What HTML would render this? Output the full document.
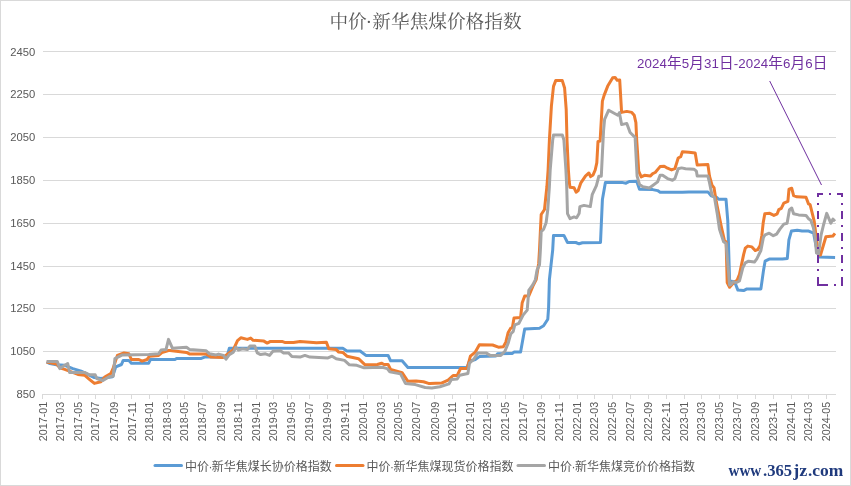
<!DOCTYPE html>
<html lang="zh-CN"><head><meta charset="utf-8"><title>中价·新华焦煤价格指数</title>
<style>
html,body{margin:0;padding:0;background:#fff;}
body{width:851px;height:486px;overflow:hidden;}
svg{display:block;}
.ax{font-family:"Liberation Sans","Noto Sans CJK SC",sans-serif;font-size:11.3px;fill:#595959;}
.lg{font-family:"Liberation Sans","Noto Sans CJK SC",sans-serif;font-size:12px;fill:#595959;}
.ti{font-family:"Liberation Serif","Noto Serif CJK SC",serif;font-size:18.67px;fill:#595959;}
.an{font-family:"Liberation Sans","Noto Sans CJK SC",sans-serif;font-size:13.3px;fill:#7030A0;}
.an .c{font-size:14.67px;}
.wm{font-family:"Liberation Serif","Noto Serif CJK SC",serif;font-size:17px;font-weight:bold;fill:#1F3A7D;}
.s{fill:none;stroke-width:3;stroke-linejoin:round;stroke-linecap:butt;}
</style></head><body>
<svg width="851" height="486" viewBox="0 0 851 486">
<rect x="0" y="0" width="851" height="486" fill="#fff"/>
<rect x="0.5" y="0.5" width="850" height="485" fill="none" stroke="#D9D9D9" stroke-width="1" shape-rendering="crispEdges"/>
<g stroke="#D9D9D9" stroke-width="1" fill="none" shape-rendering="crispEdges">
<line x1="43" y1="51.5" x2="836" y2="51.5"/>
<line x1="43" y1="94.5" x2="836" y2="94.5"/>
<line x1="43" y1="137.5" x2="836" y2="137.5"/>
<line x1="43" y1="180.5" x2="836" y2="180.5"/>
<line x1="43" y1="223.5" x2="836" y2="223.5"/>
<line x1="43" y1="266.5" x2="836" y2="266.5"/>
<line x1="43" y1="308.5" x2="836" y2="308.5"/>
<line x1="43" y1="351.5" x2="836" y2="351.5"/>
<line x1="42" y1="394.5" x2="836" y2="394.5"/>
<line x1="42.5" y1="394" x2="42.5" y2="399"/>
<line x1="60.5" y1="394" x2="60.5" y2="399"/>
<line x1="78.5" y1="394" x2="78.5" y2="399"/>
<line x1="95.5" y1="394" x2="95.5" y2="399"/>
<line x1="114.5" y1="394" x2="114.5" y2="399"/>
<line x1="131.5" y1="394" x2="131.5" y2="399"/>
<line x1="149.5" y1="394" x2="149.5" y2="399"/>
<line x1="167.5" y1="394" x2="167.5" y2="399"/>
<line x1="184.5" y1="394" x2="184.5" y2="399"/>
<line x1="202.5" y1="394" x2="202.5" y2="399"/>
<line x1="220.5" y1="394" x2="220.5" y2="399"/>
<line x1="238.5" y1="394" x2="238.5" y2="399"/>
<line x1="256.5" y1="394" x2="256.5" y2="399"/>
<line x1="273.5" y1="394" x2="273.5" y2="399"/>
<line x1="291.5" y1="394" x2="291.5" y2="399"/>
<line x1="309.5" y1="394" x2="309.5" y2="399"/>
<line x1="327.5" y1="394" x2="327.5" y2="399"/>
<line x1="345.5" y1="394" x2="345.5" y2="399"/>
<line x1="363.5" y1="394" x2="363.5" y2="399"/>
<line x1="381.5" y1="394" x2="381.5" y2="399"/>
<line x1="398.5" y1="394" x2="398.5" y2="399"/>
<line x1="416.5" y1="394" x2="416.5" y2="399"/>
<line x1="434.5" y1="394" x2="434.5" y2="399"/>
<line x1="452.5" y1="394" x2="452.5" y2="399"/>
<line x1="470.5" y1="394" x2="470.5" y2="399"/>
<line x1="487.5" y1="394" x2="487.5" y2="399"/>
<line x1="505.5" y1="394" x2="505.5" y2="399"/>
<line x1="523.5" y1="394" x2="523.5" y2="399"/>
<line x1="541.5" y1="394" x2="541.5" y2="399"/>
<line x1="559.5" y1="394" x2="559.5" y2="399"/>
<line x1="577.5" y1="394" x2="577.5" y2="399"/>
<line x1="594.5" y1="394" x2="594.5" y2="399"/>
<line x1="612.5" y1="394" x2="612.5" y2="399"/>
<line x1="630.5" y1="394" x2="630.5" y2="399"/>
<line x1="648.5" y1="394" x2="648.5" y2="399"/>
<line x1="666.5" y1="394" x2="666.5" y2="399"/>
<line x1="684.5" y1="394" x2="684.5" y2="399"/>
<line x1="701.5" y1="394" x2="701.5" y2="399"/>
<line x1="719.5" y1="394" x2="719.5" y2="399"/>
<line x1="737.5" y1="394" x2="737.5" y2="399"/>
<line x1="755.5" y1="394" x2="755.5" y2="399"/>
<line x1="773.5" y1="394" x2="773.5" y2="399"/>
<line x1="791.5" y1="394" x2="791.5" y2="399"/>
<line x1="808.5" y1="394" x2="808.5" y2="399"/>
<line x1="826.5" y1="394" x2="826.5" y2="399"/>
</g>
<text class="ax" x="35.2" y="56" text-anchor="end" textLength="25.0" lengthAdjust="spacingAndGlyphs">2450</text>
<text class="ax" x="35.2" y="98" text-anchor="end" textLength="25.0" lengthAdjust="spacingAndGlyphs">2250</text>
<text class="ax" x="35.2" y="141" text-anchor="end" textLength="25.0" lengthAdjust="spacingAndGlyphs">2050</text>
<text class="ax" x="35.2" y="184" text-anchor="end" textLength="25.0" lengthAdjust="spacingAndGlyphs">1850</text>
<text class="ax" x="35.2" y="227" text-anchor="end" textLength="25.0" lengthAdjust="spacingAndGlyphs">1650</text>
<text class="ax" x="35.2" y="270" text-anchor="end" textLength="25.0" lengthAdjust="spacingAndGlyphs">1450</text>
<text class="ax" x="35.2" y="312" text-anchor="end" textLength="25.0" lengthAdjust="spacingAndGlyphs">1250</text>
<text class="ax" x="35.2" y="355" text-anchor="end" textLength="25.0" lengthAdjust="spacingAndGlyphs">1050</text>
<text class="ax" x="35.2" y="398" text-anchor="end" textLength="18.7" lengthAdjust="spacingAndGlyphs">850</text>
<text class="ax" transform="translate(47,441.2) rotate(-90)" textLength="39.4" lengthAdjust="spacingAndGlyphs">2017-01</text>
<text class="ax" transform="translate(64,441.2) rotate(-90)" textLength="39.4" lengthAdjust="spacingAndGlyphs">2017-03</text>
<text class="ax" transform="translate(82,441.2) rotate(-90)" textLength="39.4" lengthAdjust="spacingAndGlyphs">2017-05</text>
<text class="ax" transform="translate(99,441.2) rotate(-90)" textLength="39.4" lengthAdjust="spacingAndGlyphs">2017-07</text>
<text class="ax" transform="translate(118,441.2) rotate(-90)" textLength="39.4" lengthAdjust="spacingAndGlyphs">2017-09</text>
<text class="ax" transform="translate(136,441.2) rotate(-90)" textLength="39.4" lengthAdjust="spacingAndGlyphs">2017-11</text>
<text class="ax" transform="translate(153,441.2) rotate(-90)" textLength="39.4" lengthAdjust="spacingAndGlyphs">2018-01</text>
<text class="ax" transform="translate(171,441.2) rotate(-90)" textLength="39.4" lengthAdjust="spacingAndGlyphs">2018-03</text>
<text class="ax" transform="translate(188,441.2) rotate(-90)" textLength="39.4" lengthAdjust="spacingAndGlyphs">2018-05</text>
<text class="ax" transform="translate(206,441.2) rotate(-90)" textLength="39.4" lengthAdjust="spacingAndGlyphs">2018-07</text>
<text class="ax" transform="translate(225,441.2) rotate(-90)" textLength="39.4" lengthAdjust="spacingAndGlyphs">2018-09</text>
<text class="ax" transform="translate(242,441.2) rotate(-90)" textLength="39.4" lengthAdjust="spacingAndGlyphs">2018-11</text>
<text class="ax" transform="translate(260,441.2) rotate(-90)" textLength="39.4" lengthAdjust="spacingAndGlyphs">2019-01</text>
<text class="ax" transform="translate(277,441.2) rotate(-90)" textLength="39.4" lengthAdjust="spacingAndGlyphs">2019-03</text>
<text class="ax" transform="translate(295,441.2) rotate(-90)" textLength="39.4" lengthAdjust="spacingAndGlyphs">2019-05</text>
<text class="ax" transform="translate(313,441.2) rotate(-90)" textLength="39.4" lengthAdjust="spacingAndGlyphs">2019-07</text>
<text class="ax" transform="translate(331,441.2) rotate(-90)" textLength="39.4" lengthAdjust="spacingAndGlyphs">2019-09</text>
<text class="ax" transform="translate(349,441.2) rotate(-90)" textLength="39.4" lengthAdjust="spacingAndGlyphs">2019-11</text>
<text class="ax" transform="translate(367,441.2) rotate(-90)" textLength="39.4" lengthAdjust="spacingAndGlyphs">2020-01</text>
<text class="ax" transform="translate(385,441.2) rotate(-90)" textLength="39.4" lengthAdjust="spacingAndGlyphs">2020-03</text>
<text class="ax" transform="translate(402,441.2) rotate(-90)" textLength="39.4" lengthAdjust="spacingAndGlyphs">2020-05</text>
<text class="ax" transform="translate(420,441.2) rotate(-90)" textLength="39.4" lengthAdjust="spacingAndGlyphs">2020-07</text>
<text class="ax" transform="translate(439,441.2) rotate(-90)" textLength="39.4" lengthAdjust="spacingAndGlyphs">2020-09</text>
<text class="ax" transform="translate(456,441.2) rotate(-90)" textLength="39.4" lengthAdjust="spacingAndGlyphs">2020-11</text>
<text class="ax" transform="translate(474,441.2) rotate(-90)" textLength="39.4" lengthAdjust="spacingAndGlyphs">2021-01</text>
<text class="ax" transform="translate(491,441.2) rotate(-90)" textLength="39.4" lengthAdjust="spacingAndGlyphs">2021-03</text>
<text class="ax" transform="translate(509,441.2) rotate(-90)" textLength="39.4" lengthAdjust="spacingAndGlyphs">2021-05</text>
<text class="ax" transform="translate(527,441.2) rotate(-90)" textLength="39.4" lengthAdjust="spacingAndGlyphs">2021-07</text>
<text class="ax" transform="translate(545,441.2) rotate(-90)" textLength="39.4" lengthAdjust="spacingAndGlyphs">2021-09</text>
<text class="ax" transform="translate(563,441.2) rotate(-90)" textLength="39.4" lengthAdjust="spacingAndGlyphs">2021-11</text>
<text class="ax" transform="translate(581,441.2) rotate(-90)" textLength="39.4" lengthAdjust="spacingAndGlyphs">2022-01</text>
<text class="ax" transform="translate(598,441.2) rotate(-90)" textLength="39.4" lengthAdjust="spacingAndGlyphs">2022-03</text>
<text class="ax" transform="translate(616,441.2) rotate(-90)" textLength="39.4" lengthAdjust="spacingAndGlyphs">2022-05</text>
<text class="ax" transform="translate(634,441.2) rotate(-90)" textLength="39.4" lengthAdjust="spacingAndGlyphs">2022-07</text>
<text class="ax" transform="translate(652,441.2) rotate(-90)" textLength="39.4" lengthAdjust="spacingAndGlyphs">2022-09</text>
<text class="ax" transform="translate(670,441.2) rotate(-90)" textLength="39.4" lengthAdjust="spacingAndGlyphs">2022-11</text>
<text class="ax" transform="translate(688,441.2) rotate(-90)" textLength="39.4" lengthAdjust="spacingAndGlyphs">2023-01</text>
<text class="ax" transform="translate(705,441.2) rotate(-90)" textLength="39.4" lengthAdjust="spacingAndGlyphs">2023-03</text>
<text class="ax" transform="translate(723,441.2) rotate(-90)" textLength="39.4" lengthAdjust="spacingAndGlyphs">2023-05</text>
<text class="ax" transform="translate(741,441.2) rotate(-90)" textLength="39.4" lengthAdjust="spacingAndGlyphs">2023-07</text>
<text class="ax" transform="translate(759,441.2) rotate(-90)" textLength="39.4" lengthAdjust="spacingAndGlyphs">2023-09</text>
<text class="ax" transform="translate(777,441.2) rotate(-90)" textLength="39.4" lengthAdjust="spacingAndGlyphs">2023-11</text>
<text class="ax" transform="translate(795,441.2) rotate(-90)" textLength="39.4" lengthAdjust="spacingAndGlyphs">2024-01</text>
<text class="ax" transform="translate(812,441.2) rotate(-90)" textLength="39.4" lengthAdjust="spacingAndGlyphs">2024-03</text>
<text class="ax" transform="translate(830,441.2) rotate(-90)" textLength="39.4" lengthAdjust="spacingAndGlyphs">2024-05</text>
<polyline class="s" stroke="#5B9BD5" points="46.6,362.0 49.9,363.6 56.5,364.8 64.7,365.3 72.9,368.6 81.2,371.1 87.8,374.4 94.4,377.6 100.9,378.5 112.5,376.8 115.8,366.9 121.5,364.5 123.2,360.4 128.9,360.4 131.4,363.2 148.7,363.2 150.4,359.5 168.5,359.5 170.0,359.5 174.9,359.5 176.6,358.4 201.3,358.4 204.6,357.1 226.8,357.1 229.3,348.3 310.0,348.3 342.8,348.3 346.9,351.0 360.1,351.0 365.9,355.4 388.1,355.4 390.6,360.8 402.1,360.8 407.9,367.4 440.0,367.4 467.1,367.4 469.5,361.2 475.3,359.5 479.4,356.6 495.9,355.9 497.5,353.8 512.4,353.4 514.0,352.1 520.6,352.1 524.7,329.1 539.5,328.2 543.6,325.8 547.8,319.2 548.6,307.6 549.4,279.6 552.7,250.0 553.5,235.4 563.9,235.4 567.5,242.5 575.8,242.5 579.1,243.8 582.4,242.8 600.5,242.5 602.4,199.6 605.4,182.4 621.9,182.4 626.0,183.2 629.3,181.5 636.7,181.2 639.5,189.3 652.7,189.6 657.6,190.6 660.1,192.3 682.4,192.3 688.9,191.9 707.9,191.9 711.2,195.9 716.9,197.5 718.6,199.2 726.0,199.2 727.8,221.2 729.6,281.0 734.6,281.8 737.9,290.1 743.6,290.6 746.9,288.9 760.9,288.9 763.4,271.1 765.1,261.2 769.2,259.1 782.4,259.1 787.3,258.4 788.9,239.8 791.4,231.1 797.2,230.3 802.1,231.1 808.7,231.1 813.6,233.2 816.1,246.4 819.4,257.1 835.1,257.4"/>
<polyline class="s" stroke="#ED7D31" points="46.6,362.0 56.5,364.1 59.8,367.8 64.7,369.4 77.9,374.4 84.5,375.2 89.4,379.3 94.4,383.4 100.9,381.8 105.1,376.8 110.8,373.5 113.3,367.8 117.4,355.4 124.0,352.9 128.9,353.8 131.4,359.5 138.8,359.5 142.1,361.2 147.1,359.5 149.5,356.2 158.6,355.4 161.9,352.6 168.5,350.5 170.0,350.5 186.5,352.4 189.8,354.1 206.2,354.1 211.2,357.1 222.7,357.6 226.8,354.6 233.4,349.6 237.5,340.6 240.8,337.8 247.4,339.4 250.7,338.1 253.2,340.3 263.9,341.1 267.2,343.1 270.5,341.4 282.0,341.4 285.3,342.6 293.5,342.6 300.0,341.4 316.5,342.7 326.4,342.2 328.8,348.8 336.2,349.6 338.7,352.1 342.8,352.4 346.9,356.2 358.5,358.7 365.1,364.8 377.4,364.5 381.5,363.2 384.0,364.5 388.1,364.5 390.6,369.4 402.1,372.7 407.9,381.3 416.1,380.9 423.5,381.8 428.5,383.4 430.0,383.4 441.5,383.1 448.1,380.1 453.1,375.5 457.2,375.5 460.5,368.6 467.1,368.6 470.4,356.2 475.3,352.1 479.4,344.7 492.6,345.0 498.4,347.2 503.3,346.7 505.8,342.2 508.2,332.4 510.7,328.2 512.4,327.4 514.0,317.9 520.6,317.5 522.2,302.7 524.7,296.1 528.8,295.8 532.9,286.2 536.2,279.6 538.7,263.2 539.5,250.0 540.4,230.9 541.2,214.5 544.5,209.5 546.9,186.5 548.1,170.0 549.4,140.0 551.4,106.1 553.5,86.4 555.7,80.6 562.3,80.6 564.6,88.0 566.2,109.4 567.0,140.0 568.4,170.0 569.2,181.5 570.0,187.3 574.1,187.8 576.1,192.2 578.2,190.6 580.7,183.2 585.6,175.8 588.9,173.0 590.6,176.6 593.1,174.9 595.2,170.0 596.8,162.8 598.0,141.4 600.1,141.1 602.4,101.2 604.1,95.4 607.7,86.1 612.7,77.8 615.1,77.4 617.2,80.3 619.7,79.9 621.6,112.4 626.8,111.4 631.8,112.4 634.2,115.2 635.9,122.6 636.7,140.0 637.6,153.1 638.7,171.2 641.2,176.9 644.5,175.3 650.2,176.1 652.7,173.6 655.2,172.5 660.1,166.6 664.2,166.2 667.5,168.2 671.6,169.9 674.9,168.7 678.2,158.0 680.7,156.7 682.4,151.7 688.9,152.2 695.2,153.1 697.2,164.9 707.9,164.6 709.5,176.1 712.0,185.2 714.0,187.6 716.2,201.4 721.2,226.1 724.5,240.9 726.1,241.8 727.2,282.6 729.6,287.3 732.9,283.5 737.1,280.2 739.5,274.4 743.6,254.6 745.3,248.1 747.8,246.1 751.9,246.9 755.2,250.5 757.6,249.7 760.1,245.6 761.8,235.7 763.2,222.8 764.8,213.8 769.8,213.3 773.9,215.4 777.2,213.8 778.8,209.6 781.3,208.3 783.8,203.1 787.9,201.4 789.0,189.1 791.7,188.2 793.6,195.6 796.9,196.8 806.0,197.3 808.5,203.9 810.1,204.7 814.2,221.2 816.7,240.9 818.5,255.0 820.5,255.0 825.9,236.8 832.9,236.0 835.0,233.3"/>
<polyline class="s" stroke="#A5A5A5" points="46.6,361.5 57.3,361.5 59.8,368.6 64.7,365.3 67.7,363.6 69.6,372.4 84.5,372.4 89.4,374.8 95.2,374.8 96.8,378.5 102.6,380.6 109.2,376.8 113.3,376.0 114.9,358.7 122.4,354.9 148.7,354.6 158.6,353.8 161.1,350.0 166.0,349.6 168.5,339.4 172.5,348.3 186.5,347.2 189.8,349.6 206.2,350.8 209.5,353.8 216.1,354.9 218.6,354.1 223.5,355.4 226.0,359.2 229.3,354.6 233.4,352.1 235.9,347.2 238.4,350.0 242.5,348.8 247.4,349.6 249.9,346.0 254.8,346.0 257.3,352.9 260.6,354.6 265.5,353.8 269.6,355.4 272.9,351.3 280.4,350.8 283.6,352.9 288.6,352.9 291.9,356.6 300.1,357.1 304.9,355.4 309.9,357.1 328.0,357.9 332.1,356.2 336.2,358.7 344.5,360.4 349.4,364.8 356.8,365.3 364.2,367.8 382.4,367.3 387.3,368.6 389.8,371.9 400.5,373.9 405.4,383.4 415.3,384.6 425.2,387.5 431.8,387.9 439.9,386.7 448.9,383.9 451.4,379.6 457.2,379.0 459.6,375.2 467.9,373.5 469.5,363.2 473.6,359.5 477.8,352.9 486.0,352.9 490.1,355.4 500.8,355.4 504.9,351.3 508.2,343.1 510.7,334.0 513.2,331.5 514.8,324.9 518.9,323.3 523.1,315.1 527.2,310.1 528.8,290.4 532.9,284.6 535.4,279.6 537.1,269.8 539.5,264.8 540.4,250.0 541.2,231.8 543.6,229.3 546.1,222.7 547.8,209.5 549.4,186.5 550.2,170.0 552.7,140.0 553.5,134.9 562.3,134.9 563.9,140.0 565.9,170.0 566.7,186.5 567.5,213.6 570.0,218.6 574.1,216.9 576.6,217.8 579.1,213.6 579.9,206.6 584.0,205.4 590.3,206.6 592.2,194.7 596.4,185.6 598.8,176.3 601.3,176.3 602.5,151.4 603.6,130.0 604.6,119.3 608.7,110.2 617.8,115.2 619.4,112.7 621.6,124.6 626.8,123.4 630.1,132.5 635.1,137.4 635.4,143.2 637.1,176.1 639.5,184.4 642.8,186.8 649.4,188.0 657.6,181.9 660.1,175.3 662.6,175.3 667.5,178.6 672.5,180.2 674.9,178.6 678.2,168.7 681.5,167.9 685.6,168.7 693.9,169.2 696.4,171.2 697.2,176.1 707.9,176.1 709.5,182.7 712.0,195.1 714.5,197.5 717.1,212.9 719.5,229.4 723.6,241.8 726.1,243.4 728.0,266.2 729.6,285.1 731.3,284.3 732.9,281.8 736.2,282.6 739.5,281.0 742.8,267.8 745.3,262.9 748.6,261.2 754.4,262.1 756.8,258.8 760.9,250.5 763.4,237.4 765.1,234.9 769.2,233.2 773.3,235.7 776.6,234.1 779.9,229.1 783.8,224.1 787.1,223.2 789.5,209.6 791.7,208.0 793.6,213.8 798.6,214.9 806.0,215.4 808.5,218.7 810.9,220.4 813.4,227.8 815.1,237.6 816.5,253.0 818.5,254.0 821.1,234.9 823.5,225.0 826.7,213.4 830.8,223.2 832.9,219.1 835.0,221.2"/>
<text class="ti" x="329.4" y="28">中价<tspan dx="-0.9">·</tspan><tspan dx="0.3">新华焦煤价格指数</tspan></text>
<text class="an" x="637" y="68" textLength="190.4" lengthAdjust="spacing">2024<tspan class="c">年</tspan>5<tspan class="c">月</tspan>31<tspan class="c">日</tspan>-2024<tspan class="c">年</tspan>6<tspan class="c">月</tspan>6<tspan class="c">日</tspan></text>
<line x1="769.7" y1="81" x2="821.5" y2="185" stroke="#7030A0" stroke-width="1"/>
<g stroke="#7030A0" stroke-width="2" fill="none" shape-rendering="crispEdges">
<line x1="817.0" y1="194.0" x2="823.0" y2="194.0"/>
<line x1="829.0" y1="194.0" x2="831.0" y2="194.0"/>
<line x1="837.0" y1="194.0" x2="843.0" y2="194.0"/>
<line x1="818.0" y1="194.0" x2="818.0" y2="197.0"/>
<line x1="818.0" y1="203.0" x2="818.0" y2="205.0"/>
<line x1="818.0" y1="225.0" x2="818.0" y2="227.0"/>
<line x1="818.0" y1="247.0" x2="818.0" y2="249.0"/>
<line x1="818.0" y1="269.0" x2="818.0" y2="271.0"/>
<line x1="818.0" y1="211.0" x2="818.0" y2="218.5"/>
<line x1="818.0" y1="233.0" x2="818.0" y2="240.5"/>
<line x1="818.0" y1="255.0" x2="818.0" y2="262.5"/>
<line x1="818.0" y1="277.0" x2="818.0" y2="284.5"/>
<line x1="842.0" y1="194.0" x2="842.0" y2="197.0"/>
<line x1="842.0" y1="203.0" x2="842.0" y2="205.0"/>
<line x1="842.0" y1="225.0" x2="842.0" y2="227.0"/>
<line x1="842.0" y1="247.0" x2="842.0" y2="249.0"/>
<line x1="842.0" y1="269.0" x2="842.0" y2="271.0"/>
<line x1="842.0" y1="211.0" x2="842.0" y2="218.5"/>
<line x1="842.0" y1="233.0" x2="842.0" y2="240.5"/>
<line x1="842.0" y1="255.0" x2="842.0" y2="262.5"/>
<line x1="842.0" y1="277.0" x2="842.0" y2="284.5"/>
<line x1="817.0" y1="285.0" x2="828.0" y2="285.0"/>
<line x1="834.0" y1="285.0" x2="836.0" y2="285.0"/>
<line x1="841.0" y1="285.0" x2="843.0" y2="285.0"/>
</g>
<line x1="155.0" y1="465.5" x2="181.5" y2="465.5" stroke="#5B9BD5" stroke-width="3" stroke-linecap="round"/>
<text class="lg" x="185.0" y="471">中价<tspan dx="-0.5">·</tspan><tspan dx="-0.7">新华焦煤长协价格指数</tspan></text>
<line x1="336.5" y1="465.5" x2="363.0" y2="465.5" stroke="#ED7D31" stroke-width="3" stroke-linecap="round"/>
<text class="lg" x="366.6" y="471">中价<tspan dx="-0.5">·</tspan><tspan dx="-0.7">新华焦煤现货价格指数</tspan></text>
<line x1="518.0" y1="465.5" x2="544.5" y2="465.5" stroke="#A5A5A5" stroke-width="3" stroke-linecap="round"/>
<text class="lg" x="548.1" y="471">中价<tspan dx="-0.5">·</tspan><tspan dx="-0.7">新华焦煤竞价价格指数</tspan></text>
<text class="wm" y="476"><tspan x="728.5" textLength="32.8" lengthAdjust="spacingAndGlyphs">www</tspan><tspan x="763">.</tspan><tspan x="767.2" textLength="24.8" lengthAdjust="spacingAndGlyphs">365</tspan><tspan x="793.2" textLength="14" lengthAdjust="spacingAndGlyphs">jz</tspan><tspan x="808">.</tspan><tspan x="812.2" textLength="31" lengthAdjust="spacingAndGlyphs">com</tspan></text>
</svg>
</body></html>
